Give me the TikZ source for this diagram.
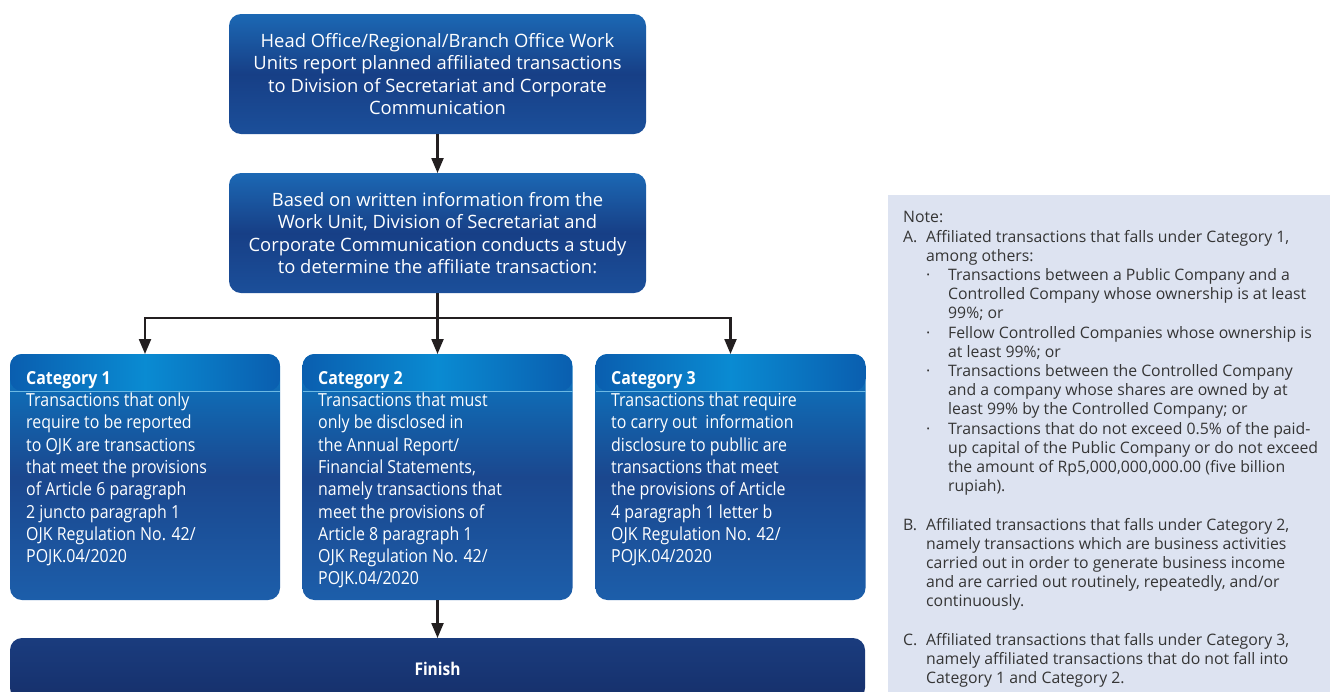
\documentclass[tikz,border=0pt]{standalone}
\usepackage{fontspec}
\setmainfont{Open Sans}
\newfontfamily\condfont[FakeStretch=0.885]{Open Sans}
\usetikzlibrary{arrows.meta}
\definecolor{btop}{HTML}{1C68B4}
\definecolor{bmid}{HTML}{173F86}
\definecolor{bbot}{HTML}{1B4F9A}
\definecolor{ctop}{HTML}{0B7AC5}
\definecolor{cmid}{HTML}{1B478E}
\definecolor{cbot}{HTML}{1C5EAA}
\definecolor{hdrc}{HTML}{0A8BD2}
\definecolor{hdre}{HTML}{0A5EAF}
\definecolor{fintop}{HTML}{1A3C7E}
\definecolor{finbot}{HTML}{16306B}
\definecolor{notebg}{HTML}{DDE3F1}
\definecolor{notetxt}{HTML}{353535}
\definecolor{arrc}{HTML}{231F20}
\tikzset{
  topbox/.style={rectangle, rounded corners=12pt, minimum width=417pt, minimum height=120pt,
    inner sep=0pt, outer sep=0pt, top color=btop, bottom color=bbot, middle color=bmid,
    text=white, align=center, font=\fontsize{18.4}{22.6}\selectfont},
  catbox/.style={rectangle, rounded corners=12pt, minimum width=270pt, minimum height=246pt,
    inner sep=0pt, outer sep=0pt, top color=ctop, bottom color=cbot, middle color=cmid},
  cattext/.style={anchor=north west, inner sep=0pt, text=white, align=left,
    font=\condfont\fontsize{18}{22.3}\selectfont},
  conn/.style={draw=arrc, line width=2.2pt},
  arr/.style={conn, -{Triangle[width=12pt,length=15pt]}},
}
\begin{document}
\begin{tikzpicture}[x=1pt,y=-1pt]
\clip (0,0) rectangle (1330,691);
\fill[white] (0,0) rectangle (1330,691);

% top boxes
\node[topbox] (b1) at (437.5,74) {Head Office/Regional/Branch Office Work\\Units report planned affiliated transactions\\to Division of Secretariat and Corporate\\Communication};
\node[topbox] (b2) at (437.5,233) {Based on written information from the\\Work Unit, Division of Secretariat and\\Corporate Communication conducts a study\\to determine the affiliate transaction:};

% category boxes
\node[catbox] (c1) at (145,477) {};
\node[catbox] (c2) at (437.5,477) {};
\node[catbox] (c3) at (730.5,477) {};
\foreach \n in {c1,c2,c3}{
  \begin{scope}
    \clip[rounded corners=12pt] (\n.north west) rectangle ([yshift=-37pt]\n.north east);
    \shade[left color=hdre, right color=hdre, middle color=hdrc] ([yshift=1pt]\n.north west) rectangle ([yshift=-38pt]\n.north east);
  \end{scope}
  \draw[color=hdrc!60!white, line width=0.6pt] ([yshift=-37pt]\n.north west) -- ([yshift=-37pt]\n.north east);
}
\node[cattext] (t1) at (26,371) {\textbf{Category 1}\\Transactions that only\\require to be reported\\to OJK are transactions\\that meet the provisions\\of Article 6 paragraph\\2 juncto paragraph 1\\OJK Regulation No. 42/\\POJK.04/2020};
\node[cattext] (t2) at (318,371) {\textbf{Category 2}\\Transactions that must\\only be disclosed in\\the Annual Report/\\Financial Statements,\\namely transactions that\\meet the provisions of\\Article 8 paragraph 1\\OJK Regulation No. 42/\\POJK.04/2020};
\node[cattext] (t3) at (611,371) {\textbf{Category 3}\\Transactions that require\\to carry out\ \ information\\disclosure to publlic are\\transactions that meet\\the provisions of Article\\4 paragraph 1 letter b\\OJK Regulation No. 42/\\POJK.04/2020};

% finish
\node[rectangle, rounded corners=12pt, minimum width=855pt, minimum height=62pt, inner sep=0pt, outer sep=0pt,
  top color=fintop, bottom color=finbot, text=white, font=\condfont\bfseries\fontsize{17.5}{20}\selectfont] (fin) at (437.5,669) {Finish};

% connectors
\coordinate (j) at (437.5,318);
\draw[arr] (b1.south) -- (b2.north);
\draw[conn] (b2.south) -- (j);
\draw[arr] (j) -- (c2.north);
\draw[arr] (j) -| (c1.north);
\draw[arr] (j) -| (c3.north);
\draw[arr] (c2.south) -- (fin.north);

% note panel
\node[rectangle, fill=notebg, anchor=north west, minimum width=442pt, minimum height=510pt, inner sep=0pt] (note) at (888,195) {};
\node[anchor=north west, inner sep=0pt, align=left, text=notetxt, font=\fontsize{15.8}{19.2}\selectfont] (nt) at (903,211.5) {%
Note:\\
\makebox[23pt][l]{A.}Affiliated transactions that falls under Category 1,\\
\hspace*{23pt}among others:\\
\hspace*{23pt}\makebox[22pt][l]{\textperiodcentered}Transactions between a Public Company and a\\
\hspace*{45pt}Controlled Company whose ownership is at least\\
\hspace*{45pt}99\%; or\\
\hspace*{23pt}\makebox[22pt][l]{\textperiodcentered}Fellow Controlled Companies whose ownership is\\
\hspace*{45pt}at least 99\%; or\\
\hspace*{23pt}\makebox[22pt][l]{\textperiodcentered}Transactions between the Controlled Company\\
\hspace*{45pt}and a company whose shares are owned by at\\
\hspace*{45pt}least 99\% by the Controlled Company; or\\
\hspace*{23pt}\makebox[22pt][l]{\textperiodcentered}Transactions that do not exceed 0.5\% of the paid-\\
\hspace*{45pt}up capital of the Public Company or do not exceed\\
\hspace*{45pt}the amount of Rp5,000,000,000.00 (five billion\\
\hspace*{45pt}rupiah).\\[19.2pt]
\makebox[23pt][l]{B.}Affiliated transactions that falls under Category 2,\\
\hspace*{23pt}namely transactions which are business activities\\
\hspace*{23pt}carried out in order to generate business income\\
\hspace*{23pt}and are carried out routinely, repeatedly, and/or\\
\hspace*{23pt}continuously.\\[19.2pt]
\makebox[23pt][l]{C.}Affiliated transactions that falls under Category 3,\\
\hspace*{23pt}namely affiliated transactions that do not fall into\\
\hspace*{23pt}Category 1 and Category 2.};
\end{tikzpicture}
\end{document}
